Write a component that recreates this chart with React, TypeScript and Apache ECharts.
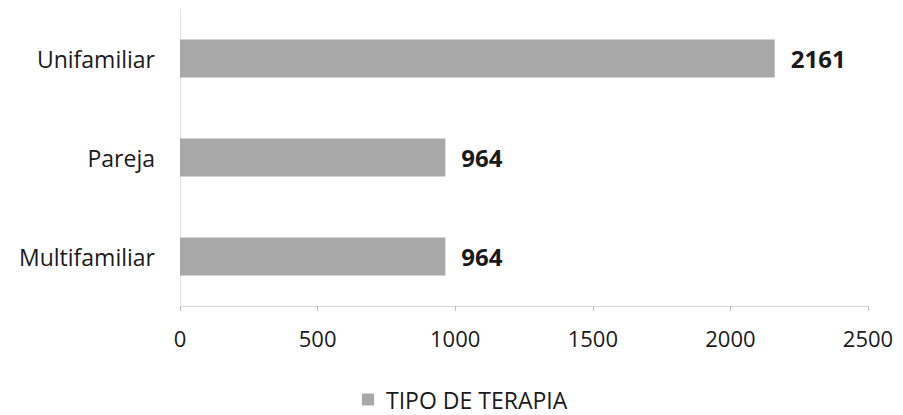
import React, { useEffect, useRef } from "react";
import * as echarts from "echarts";

const categories = ["Multifamiliar", "Pareja", "Unifamiliar"];
const values = [964, 964, 2161];
const seriesName = "TIPO DE TERAPIA";

export default function App() {
  const ref = useRef<HTMLDivElement>(null);
  useEffect(() => {
    if (!ref.current) return;
    const chart = echarts.init(ref.current, undefined, { renderer: "svg" });
    const font = "Open Sans";
    chart.setOption({
      animation: false,
      backgroundColor: "#ffffff",
      grid: { left: 180, right: 35, top: 9, bottom: 109, containLabel: false },
      legend: {
        top: 383,
        left: 357,
        itemWidth: 12,
        itemHeight: 12,
        itemGap: 10,
        icon: "rect",
        textStyle: { fontFamily: font, fontSize: 23, color: "#1a1a1a", padding: [0, 0, 0, 7] },
        data: [seriesName],
      },
      xAxis: {
        type: "value",
        min: 0,
        max: 2500,
        interval: 500,
        axisLine: { show: true, lineStyle: { color: "#d9d9d9" } },
        axisTick: { show: true, length: 5, lineStyle: { color: "#bfbfbf" } },
        splitLine: { show: false },
        axisLabel: {
          fontFamily: font,
          fontSize: 22,
          color: "#1a1a1a",
          margin: 21,
          formatter: (v: number) => String(v),
        },
      },
      yAxis: {
        type: "category",
        data: categories,
        axisLine: { show: true, lineStyle: { color: "#e6e6e6" } },
        axisTick: { show: false },
        axisLabel: { fontFamily: font, fontSize: 23, color: "#1a1a1a", margin: 25 },
      },
      series: [
        {
          name: seriesName,
          type: "bar",
          data: values,
          barWidth: 38,
          itemStyle: { color: "#a8a8a8" },
          label: {
            show: true,
            position: "right",
            distance: 16,
            fontFamily: font,
            fontSize: 24,
            fontWeight: "bold",
            color: "#1a1a1a",
          },
        },
      ],
    });
    return () => chart.dispose();
  }, []);
  return (
    <div
      ref={ref}
      style={{ position: "absolute", left: 0, top: 0, width: 903, height: 415 }}
    />
  );
}
